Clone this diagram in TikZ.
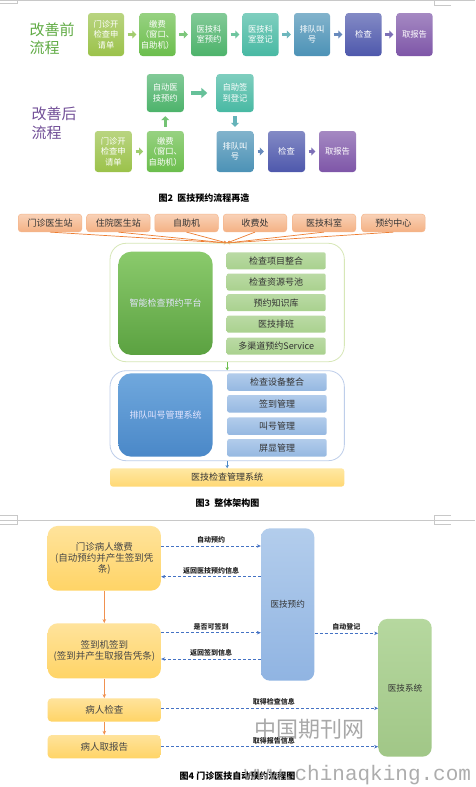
\documentclass[tikz,border=0pt]{standalone}
\usepackage{fontspec}
\setmainfont{Noto Sans CJK SC}
\newfontfamily\wmmono{Liberation Mono}
\usetikzlibrary{arrows.meta}
\definecolor{cA}{HTML}{9BC24A}
\definecolor{cB}{HTML}{6BBE4C}
\definecolor{cC}{HTML}{4DB36B}
\definecolor{cD}{HTML}{48B9A3}
\definecolor{cE}{HTML}{4C92B6}
\definecolor{cF}{HTML}{4E58AC}
\definecolor{cG}{HTML}{7E56A8}
\definecolor{txtd}{HTML}{333333}
\definecolor{orng}{HTML}{ED7D31}
\definecolor{dblue}{HTML}{4472C4}
\definecolor{markc}{HTML}{C8C8C8}
\definecolor{fy}{HTML}{FFD466}
\definecolor{bbtop}{HTML}{70A8DD}
\definecolor{bbbot}{HTML}{4A88C8}
\definecolor{sbtop}{HTML}{B2CCEB}
\definecolor{sbbot}{HTML}{95B8E1}
\definecolor{tbtop}{HTML}{B3CDEC}
\definecolor{tbbot}{HTML}{90B4E2}
\definecolor{gsc}{HTML}{A9D18E}
\definecolor{ybtop}{HTML}{FFE8A3}
\definecolor{ybbot}{HTML}{FFD874}
\tikzset{
 pbox/.style={rounded corners=3pt, minimum width=36pt, minimum height=43pt, inner sep=0pt, align=center, text=white, font=\fontsize{8.3}{10.5}\selectfont, top color=#1!70!white, bottom color=#1},
 qbox/.style={pbox=#1, minimum width=37pt, minimum height=41pt},
 rbox/.style={pbox=#1, minimum width=37pt, minimum height=38pt},
 barrow/.style={draw=#1, line width=3.2pt, -{Triangle[length=4pt,width=8pt]}},
 bigarrow/.style={draw=#1, line width=4.5pt, -{Triangle[length=6pt,width=10pt]}},
 obox/.style={rounded corners=3pt, minimum width=63.5pt, minimum height=17.7pt, inner sep=0pt, top color=orng!35!white, bottom color=orng!60!white, draw=orng!55!white, line width=0.5pt, text=txtd, font=\fontsize{9}{10}\selectfont},
 cont/.style={rounded corners=16pt, minimum width=234.3pt, inner sep=0pt, line width=0.8pt},
 bigbox/.style={rounded corners=13pt, minimum width=94.4pt, inner sep=0pt, text=white!90!blue, font=\fontsize{9}{10}\selectfont},
 gsmall/.style={rounded corners=2pt, minimum width=99pt, minimum height=17pt, inner sep=0pt, text=txtd, font=\fontsize{9}{10}\selectfont},
 fbox/.style={rounded corners=10pt, minimum width=113.3pt, inner sep=0pt, align=center, top color=#1!65!white, bottom color=#1, text=txtd!90, font=\fontsize{9.5}{11}\selectfont},
 tall/.style={rounded corners=9pt, minimum width=53.3pt, inner sep=0pt, text=txtd, font=\fontsize{8.6}{10}\selectfont},
 darr/.style={draw=dblue, dash pattern=on 3pt off 2pt, line width=0.8pt, -{Stealth[length=4pt,width=3.5pt]}},
 dlab/.style={anchor=south, inner sep=1pt, yshift=1.5pt, font=\bfseries\fontsize{7}{8}\selectfont, text=black!85},
 caption/.style={font=\bfseries\fontsize{9}{10}\selectfont, text=black},
 markl/.style={draw=markc, line width=0.6pt}
}
\begin{document}
\begin{tikzpicture}[x=1pt,y=-1pt]
\useasboundingbox (0,0) rectangle (475,787);
\fill[white] (0,0) rectangle (475,787);
% page marks
\draw[markl] (0,0.4) -- (475,0.4);
\draw[markl] (0,3.5) -- (17,3.5) -- (17,0);
\draw[markl] (451,5) -- (434.5,5) -- (434.5,0);
\draw[markl] (0,515.7) -- (17,515.7) -- (17,524) -- (0,524);
\draw[markl] (451,515.7) -- (434.5,515.7) -- (434.5,524) -- (451,524);
\draw[markl] (0,520) -- (475,520);

% ===== Figure 2: before =====
\node[text=cB!90!black, font=\fontsize{15}{18}\selectfont, align=left, anchor=west] (lbef) at (26,39) {改善前\\流程};
\node[pbox=cA] (t1) at (106,34.5) {门诊开\\检查申\\请单};
\node[pbox=cB] (t2) at (157.5,34.5) {缴费\\（窗口、\\自助机）};
\node[pbox=cC] (t3) at (209,34.5) {医技科\\室预约};
\node[pbox=cD] (t4) at (260.5,34.5) {医技科\\室登记};
\node[pbox=cE] (t5) at (312,34.5) {排队叫\\号};
\node[pbox=cF] (t6) at (363.5,34.5) {检查};
\node[pbox=cG] (t7) at (414.5,34.5) {取报告};
\draw[barrow=cA!70!cB!80!white, shorten <=3.5pt, shorten >=3pt] (t1) -- (t2);
\draw[barrow=cB!50!cC!80!white, shorten <=3.5pt, shorten >=3pt] (t2) -- (t3);
\draw[barrow=cC!50!cD!80!white, shorten <=3.5pt, shorten >=3pt] (t3) -- (t4);
\draw[barrow=cD!50!cE!80!white, shorten <=3.5pt, shorten >=3pt] (t4) -- (t5);
\draw[barrow=cE!50!cF!85!white, shorten <=3.5pt, shorten >=3pt] (t5) -- (t6);
\draw[barrow=cF!50!cG!85!white, shorten <=3.5pt, shorten >=3pt] (t6) -- (t7);

% ===== Figure 2: after =====
\node[text=cG!90!black, font=\fontsize{15}{19}\selectfont, align=left, anchor=west] (laft) at (28,123) {改善后\\流程};
\node[qbox=cA] (b1) at (113.3,151.5) {门诊开\\检查申\\请单};
\node[qbox=cB] (b2) at (165.3,151.5) {缴费\\（窗口、\\自助机）};
\node[rbox=cC] (b3) at (165.3,93) {自动医\\技预约};
\node[rbox=cD] (b4) at (235,93) {自助签\\到登记};
\node[qbox=cE] (b5) at (235,151.5) {排队叫\\号};
\node[qbox=cF] (b6) at (286.5,151.5) {检查};
\node[qbox=cG] (b7) at (337.5,151.5) {取报告};
\draw[barrow=cA!60!cB!80!white, shorten <=3.5pt, shorten >=3.5pt] (b1) -- (b2);
\draw[barrow=cB!50!cC!85!white, shorten <=4pt, shorten >=4pt] (b2) -- (b3);
\draw[bigarrow=cC!50!cD!85!white, shorten <=7pt, shorten >=9pt] (b3) -- (b4);
\draw[barrow=cD!50!cE!85!white, shorten <=4pt, shorten >=4pt] (b4) -- (b5);
\draw[barrow=cE!50!cF!85!white, shorten <=4pt, shorten >=4pt] (b5) -- (b6);
\draw[barrow=cF!50!cG!85!white, shorten <=3.5pt, shorten >=3.5pt] (b6) -- (b7);
\node[caption] (cap2) at (204,198) {图2\ \ 医技预约流程再造};

% ===== Figure 3 =====
\node[obox] (o1) at (50,223) {门诊医生站};
\node[obox] (o2) at (118.3,223) {住院医生站};
\node[obox] (o3) at (186.5,223) {自助机};
\node[obox] (o4) at (255,223) {收费处};
\node[obox] (o5) at (324,223) {医技科室};
\node[obox] (o6) at (393.3,223) {预约中心};
\coordinate (conv) at (227,243);
\foreach \i in {1,...,6}{
 \draw[orng, line width=0.7pt, -{Stealth[length=3pt,width=3pt]}] (o\i.south) -- (conv);
}
\node[cont, draw=cA!40!white, minimum height=118.4pt] (gc) at (227.2,302.5) {};
\node[bigbox, minimum height=103.3pt, top color=cB!80!white!90!cA, bottom color=cB!85!black] (gbig) at (165.5,303.3) {智能检查预约平台};
\node[gsmall, top color=gsc!80!white, bottom color=gsc] (g1) at (276.2,260.8) {检查项目整合};
\node[gsmall, top color=gsc!80!white, bottom color=gsc] (g2) at (276.2,282) {检查资源号池};
\node[gsmall, top color=gsc!80!white, bottom color=gsc] (g3) at (276.2,302.7) {预约知识库};
\node[gsmall, top color=gsc!80!white, bottom color=gsc] (g4) at (276.2,324.2) {医技排班};
\node[gsmall, top color=gsc!80!white, bottom color=gsc] (g5) at (276.2,346.2) {多渠道预约Service};
\node[cont, draw=dblue!35!white, minimum height=90pt] (bc) at (227.2,415.7) {};
\node[bigbox, minimum height=83.4pt, top color=bbtop, bottom color=bbbot] (bbig) at (165.5,415) {排队叫号管理系统};
\node[gsmall, minimum width=99.4pt, minimum height=17.5pt, top color=sbtop, bottom color=sbbot] (s1) at (277,382) {检查设备整合};
\node[gsmall, minimum width=99.4pt, minimum height=17.5pt, top color=sbtop, bottom color=sbbot] (s2) at (277,403.8) {签到管理};
\node[gsmall, minimum width=99.4pt, minimum height=17.5pt, top color=sbtop, bottom color=sbbot] (s3) at (277,426.2) {叫号管理};
\node[gsmall, minimum width=99.4pt, minimum height=17.5pt, top color=sbtop, bottom color=sbbot] (s4) at (277,447.8) {屏显管理};
\node[rounded corners=3pt, minimum width=234.3pt, minimum height=18.4pt, inner sep=0pt, top color=ybtop, bottom color=ybbot, text=txtd, font=\fontsize{9}{10}\selectfont] (ybox) at (227.2,477.5) {医技检查管理系统};
\draw[cB, line width=0.7pt, -{Stealth[length=3pt,width=3.5pt]}] (gc) -- (bc);
\draw[bbbot, line width=0.7pt, -{Stealth[length=3pt,width=3.5pt]}] (bc) -- (ybox);
\node[caption] (cap3) at (227.5,503.5) {图3\ \ 整体架构图};

% ===== Figure 4 =====
\node[fbox=fy, minimum height=64.7pt] (fa) at (104.3,558.3) {门诊病人缴费\\(自动预约并产生签到凭\\条)};
\node[fbox=fy, minimum height=55pt] (fb) at (104.3,650.8) {签到机签到\\(签到并产生取报告凭条)};
\node[fbox=fy, minimum height=23.4pt, rounded corners=4pt] (fc) at (104.3,710) {病人检查};
\node[fbox=fy, minimum height=23.3pt, rounded corners=4pt] (fd) at (104.3,746.7) {病人取报告};
\draw[orng!85!white, line width=0.8pt, -{Stealth[length=4pt,width=3.5pt]}] (fa) -- (fb);
\draw[orng!85!white, line width=0.8pt, -{Stealth[length=4pt,width=3.5pt]}] (fb) -- (fc);
\draw[orng!85!white, line width=0.8pt, -{Stealth[length=4pt,width=3.5pt]}] (fc) -- (fd);
\node[tall, minimum height=152.4pt, top color=tbtop, bottom color=tbbot] (fyy) at (287.7,604.5) {医技预约};
\node[tall, minimum height=137.7pt, top color=gsc!85!white, bottom color=gsc!95!black] (fs) at (405,687.8) {医技系统};
\coordinate (y1) at (0,546);
\coordinate (y2) at (0,576.7);
\coordinate (y3) at (0,632.7);
\coordinate (y4) at (0,659);
\coordinate (y5) at (0,633.3);
\coordinate (y6) at (0,708.3);
\coordinate (y7) at (0,746.7);
\draw[darr] (fa.east |- y1) -- node[dlab] {自动预约} (fyy.west |- y1);
\draw[darr] (fyy.west |- y2) -- node[dlab] {返回医技预约信息} (fa.east |- y2);
\draw[darr] (fb.east |- y3) -- node[dlab] {是否可签到} (fyy.west |- y3);
\draw[darr] (fyy.west |- y4) -- node[dlab] {返回签到信息} (fb.east |- y4);
\draw[darr] (fyy.east |- y5) -- node[dlab] {自动登记} (fs.west |- y5);
\draw[darr] (fc.east |- y6) -- node[dlab, pos=0.52] {取得检查信息} (fs.west |- y6);
\draw[darr] (fd.east |- y7) -- node[dlab, pos=0.52] {取得报告信息} (fs.west |- y7);
\node[caption] (cap4) at (237.5,776) {图4\ 门诊医技自动预约流程图};
% watermark
\node[text=black!45, opacity=0.75, font=\fontsize{22}{24}\selectfont] (wm1) at (309,729) {中国期刊网};
\node[text=black!40, opacity=0.8, font=\wmmono\fontsize{21}{22}\selectfont, anchor=west, inner sep=0pt] (wm2) at (244,775) {www.chinaqking.com};
\end{tikzpicture}
\end{document}
